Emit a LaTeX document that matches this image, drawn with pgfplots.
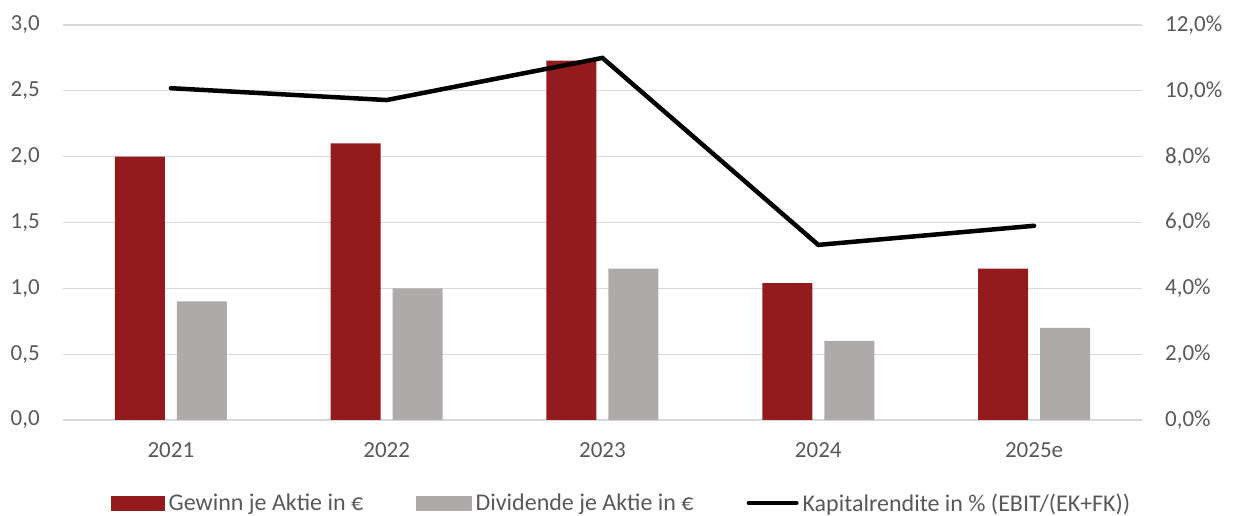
\documentclass[border=0pt]{standalone}
\usepackage{pgfplots}
\pgfplotsset{compat=1.18}
\usepackage{fontspec}
\setmainfont{Carlito}

\definecolor{barred}{HTML}{931B1E}
\definecolor{bargray}{HTML}{AEAAAA}
\definecolor{gridgray}{HTML}{D9D9D9}
\definecolor{labelgray}{HTML}{595959}

\pgfplotsset{
    base/.style={
        scale only axis,
        width=1079bp, height=395bp,
        at={(63bp,96bp)}, anchor=south west,
        xmin=-0.5, xmax=4.5,
        axis line style={draw=none},
        major tick length=0pt,
        tick label style={font=\fontsize{23bp}{27bp}\selectfont, text=labelgray},
        /pgf/number format/.cd, fixed, fixed zerofill, precision=1, use comma, assume math mode=true,
    },
}

\begin{document}
\begin{tikzpicture}
    \path[use as bounding box] (0,0) rectangle (1233bp,516bp);
    % bars, left axis
    \begin{axis}[
            base,
            ymin=0, ymax=3,
            ytick={0,0.5,...,3},
            ymajorgrids,
            grid style={draw=gridgray, line width=1.3bp},
            xtick=data,
            xticklabels={2021,2022,2023,2024,2025e},
            xticklabel style={anchor=north, inner sep=0pt, yshift=-22.5bp},
            yticklabel style={anchor=east, inner sep=0pt, xshift=-23bp},
            ybar, bar width=50bp,
        ]
        % Gewinn je Aktie
        \addplot[fill=barred, draw=none, bar shift=-31bp] coordinates {
                (0,2.00) (1,2.10) (2,2.73) (3,1.04) (4,1.15)
            };
        % Dividende je Aktie
        \addplot[fill=bargray, draw=none, bar shift=31bp] coordinates {
                (0,0.90) (1,1.00) (2,1.15) (3,0.60) (4,0.70)
            };
    \end{axis}
    % line, right axis
    \begin{axis}[
            base,
            ymin=0, ymax=12,
            ytick={0,2,...,12},
            axis y line*=right,
            hide x axis,
            yticklabel={\pgfmathprintnumber{\tick}\%},
            yticklabel style={anchor=west, inner sep=0pt, xshift=23bp},
            legend columns=3,
            legend cell align=left,
            legend style={
                    at={(0.517,-0.2101)}, anchor=center,
                    draw=none, fill=none, inner sep=0pt,
                    font=\fontsize{24bp}{28bp}\selectfont, text=labelgray,
                    nodes={inner sep=0pt},
                    /tikz/every odd column/.append style={column sep=4bp},
                    /tikz/every even column/.append style={column sep=53bp},
                },
        ]
        \addlegendimage{legend image code/.code={\fill[barred] (0bp,-7.25bp) rectangle (53bp,7.25bp);}}
        \addlegendentry{Gewinn je Aktie in €}
        \addlegendimage{legend image code/.code={\fill[bargray] (0bp,-7.25bp) rectangle (55bp,7.25bp);}}
        \addlegendentry{Dividende je Aktie in €}
        % Kapitalrendite
        \addplot[black, line width=4.5bp, line cap=round, line join=miter, mark=none,
            legend image code/.code={\draw[black, line width=4.5bp, line cap=round] (2.25bp,0bp) -- (49.75bp,0bp);}]
        coordinates {
                (0,10.08) (1,9.72) (2,11.0) (3,5.32) (4,5.90)
            };
        \addlegendentry{Kapitalrendite in \% (EBIT/(EK+FK))}
    \end{axis}
\end{tikzpicture}
\end{document}
